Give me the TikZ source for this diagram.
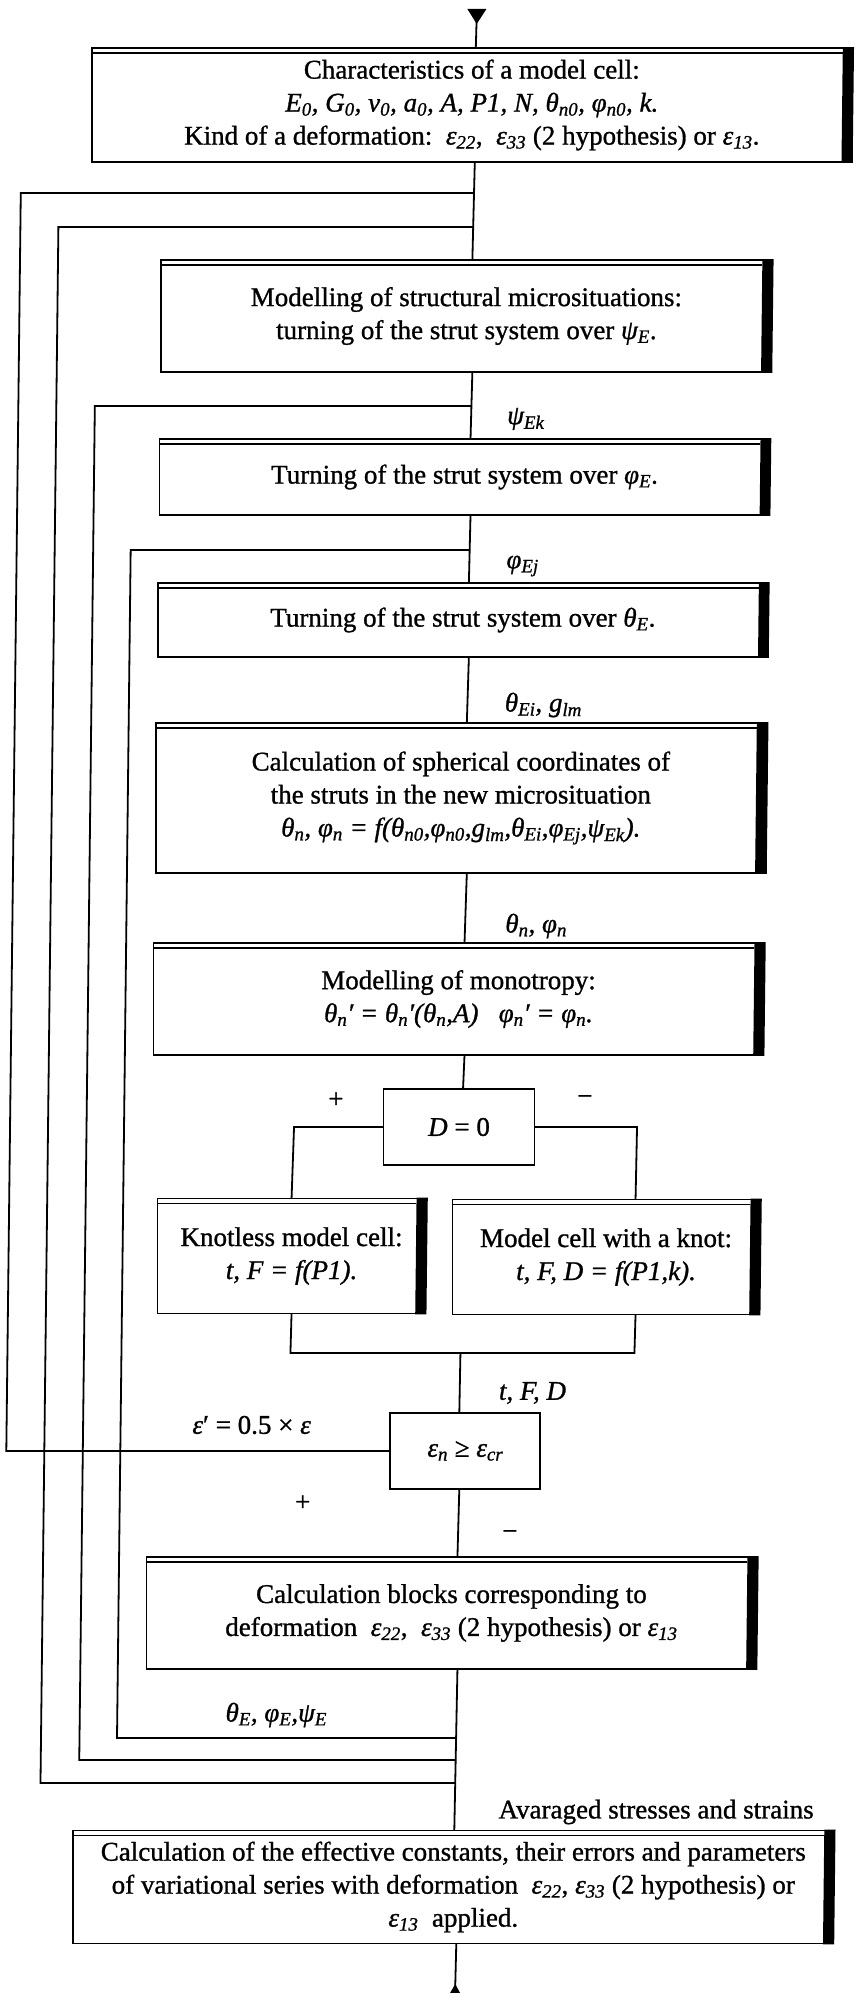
\documentclass[tikz,border=0pt]{standalone}
\usepackage{fontspec}
\setmainfont{Liberation Serif}[FakeBold=1]
\usetikzlibrary{calc}
\newcommand\sbs[1]{\textsubscript{#1}}
\begin{document}
\begin{tikzpicture}[x=1pt,y=-1pt,
  every node/.style={inner sep=0pt,outer sep=0pt},
  txt/.style={font=\fontsize{27}{33}\selectfont},
  blockbox/.style={txt, draw, line width=1.8pt, align=center},
  testbox/.style={txt, draw, line width=1.8pt, align=center},
  lbl/.style={txt},
  wire/.style={line width=1.8pt},
]
\fill[white] (0,0) rectangle (854,1993);
\useasboundingbox (0,0) rectangle (854,1993);
\begin{scope}[xslant=0.0115]
% ---- process blocks ----
\node[blockbox, minimum width=760pt, minimum height=114pt] (b1) at (473,105)
  {Characteristics of a model cell:\\
   \textit{E\sbs{0}, G\sbs{0}, ν\sbs{0}, a\sbs{0}, A, P1, N, θ\sbs{n0}, φ\sbs{n0}, k.}\\
   Kind of a deformation:\ \ \textit{ε\sbs{22}},\ \ \textit{ε\sbs{33}} (2 hypothesis) or \textit{ε\sbs{13}}.};
\node[blockbox, minimum width=610pt, minimum height=112pt] (b2) at (470,316)
  {Modelling of structural microsituations:\\
   turning of the strut system over \textit{ψ\sbs{E}}.};
\node[blockbox, minimum width=610pt, minimum height=76pt] (b3) at (470,477)
  {Turning of the strut system over \textit{φ\sbs{E}}.};
\node[blockbox, minimum width=610pt, minimum height=74pt] (b4) at (470,620)
  {Turning of the strut system over \textit{θ\sbs{E}}.};
\node[blockbox, minimum width=610pt, minimum height=150pt] (b5) at (470,798)
  {Calculation of spherical coordinates of\\
   the struts in the new microsituation\\
   \textit{θ\sbs{n}, φ\sbs{n} = f(θ\sbs{n0},φ\sbs{n0},g\sbs{lm},θ\sbs{Ei},φ\sbs{Ej},ψ\sbs{Ek}).}};
\node[blockbox, minimum width=610pt, minimum height=112pt] (b6) at (470,999)
  {Modelling of monotropy:\\
   \textit{θ\sbs{n}′ = θ\sbs{n}′(θ\sbs{n},A)\ \ \ φ\sbs{n}′ = φ\sbs{n}.}};
\node[testbox, minimum width=151pt, minimum height=76pt] (dz) at (472,1127)
  {\textit{D} = 0};
\node[blockbox, minimum width=268pt, minimum height=115pt] (kl) at (306,1256)
  {Knotless model cell:\\ \textit{t, F = f(P1).}};
\node[blockbox, minimum width=307pt, minimum height=115pt] (kn) at (620.5,1257)
  {Model cell with a knot:\\ \textit{t, F, D = f(P1,k).}};
\node[testbox, minimum width=150pt, minimum height=76pt] (eps) at (482,1451)
  {\textit{ε\sbs{n}} ≥ \textit{ε\sbs{cr}}};
\node[blockbox, minimum width=610pt, minimum height=112pt] (b7) at (470,1613)
  {Calculation blocks corresponding to\\
   deformation\ \ \textit{ε\sbs{22}},\ \ \textit{ε\sbs{33}} (2 hypothesis) or \textit{ε\sbs{13}}};
\node[blockbox, minimum width=760pt, minimum height=113pt] (fin) at (475,1887)
  {Calculation of the effective constants, their errors and parameters\\
   of variational series with deformation\ \ \textit{ε\sbs{22}}, \textit{ε\sbs{33}} (2 hypothesis) or\\
   \textit{ε\sbs{13}}\ \ applied.};
% double top rule and heavy right edge of the process blocks
\foreach \n in {b1,b2,b3,b4,b5,b6,kl,kn,b7,fin}{
  \draw[line width=1.2pt] ($(\n.north west)+(0,5)$) -- ($(\n.north east)+(-9,5)$);
  \fill ($(\n.north east)+(-9,-0.9)$) rectangle ($(\n.south east)+(0.9,0.9)$);
}
% ---- main flow ----
\coordinate (entry) at (477,10);
\coordinate (exit) at (478,1993);
\fill (467.5,9) -- (486.5,9) -- (477,24) -- cycle;
\fill (473,1993) -- (483,1993) -- (478,1984) -- cycle;
\draw[wire] (entry) -- ($(b1.north)+(4,0)$);
\draw[wire] ($(b1.south)+(3,0)$) -- ($(b2.north)+(6,0)$);
\draw[wire] ($(b2.south)+(6,0)$) -- ($(b3.north)+(6,0)$);
\draw[wire] ($(b3.south)+(6,0)$) -- ($(b4.north)+(6,0)$);
\draw[wire] ($(b4.south)+(6,0)$) -- ($(b5.north)+(6,0)$);
\draw[wire] ($(b5.south)+(6,0)$) -- ($(b6.north)+(6,0)$);
\draw[wire] ($(b6.south)+(6,0)$) -- ($(dz.north)+(4,0)$);
% branches of D = 0
\coordinate (dl) at (307,1127);
\coordinate (dr) at (650,1127);
\draw[wire] (dz.west) -- (dl) -- (kl.north);
\draw[wire] (dz.east) -- (dr) -- ($(kn.north)+(29.5,0)$);
\coordinate (ml) at (306,1353);
\coordinate (mr) at (650,1353);
\coordinate (mm) at (476,1353);
\draw[wire] (kl.south) -- (ml) -- (mr) -- ($(kn.south)+(29.5,0)$);
\draw[wire] (mm) -- ($(eps.north)+(-6,0)$);
\draw[wire] ($(eps.south)+(-6,0)$) -- ($(b7.north)+(6,0)$);
\draw[wire] ($(b7.south)+(6,0)$) -- ($(fin.north)+(1,0)$);
\draw[wire] ($(fin.south)+(3,0)$) -- (exit);
% ---- feedback loops ----
\coordinate (j1) at (476,193);
\coordinate (j2) at (476,227);
\coordinate (j3) at (476,406);
\coordinate (j4) at (476,550);
\coordinate (k2) at (476,1783);
\coordinate (k3) at (476,1760);
\coordinate (k4) at (476,1738);
\draw[wire] (eps.west) -- (23,1451) -- (23,193) -- (j1);
\draw[wire] (k2) -- (61,1783) -- (61,227) -- (j2);
\draw[wire] (k3) -- (99.5,1760) -- (99.5,406) -- (j3);
\draw[wire] (k4) -- (137,1738) -- (137,550) -- (j4);
% ---- labels ----
\node[lbl, anchor=west] (lpsi) at (512,419) {\textit{ψ\sbs{Ek}}};
\node[lbl, anchor=west] (lphi) at (513,566) {\textit{φ\sbs{Ej}}};
\node[lbl, anchor=west] (lth) at (513,705) {\textit{θ\sbs{Ei}, g\sbs{lm}}};
\node[lbl, anchor=west] (lnn) at (516,926) {\textit{θ\sbs{n}, φ\sbs{n}}};
\node[lbl] (lp1) at (348.6,1100) {+};
\node[lbl] (lm1) at (597.6,1100) {−};
\node[lbl, anchor=west] (ltfd) at (515,1393) {\textit{t, F, D}};
\node[lbl] (lhalf) at (268,1425) {\textit{ε}′ = 0.5 × \textit{ε}};
\node[lbl] (lp2) at (320,1503) {+};
\node[lbl] (lm2) at (527.6,1535) {−};
\node[lbl] (lang) at (296,1715) {\textit{θ\sbs{E}, φ\sbs{E},ψ\sbs{E}}};
\node[lbl] (lavg) at (677,1812) {Avaraged stresses and strains};
\end{scope}
\end{tikzpicture}
\end{document}
